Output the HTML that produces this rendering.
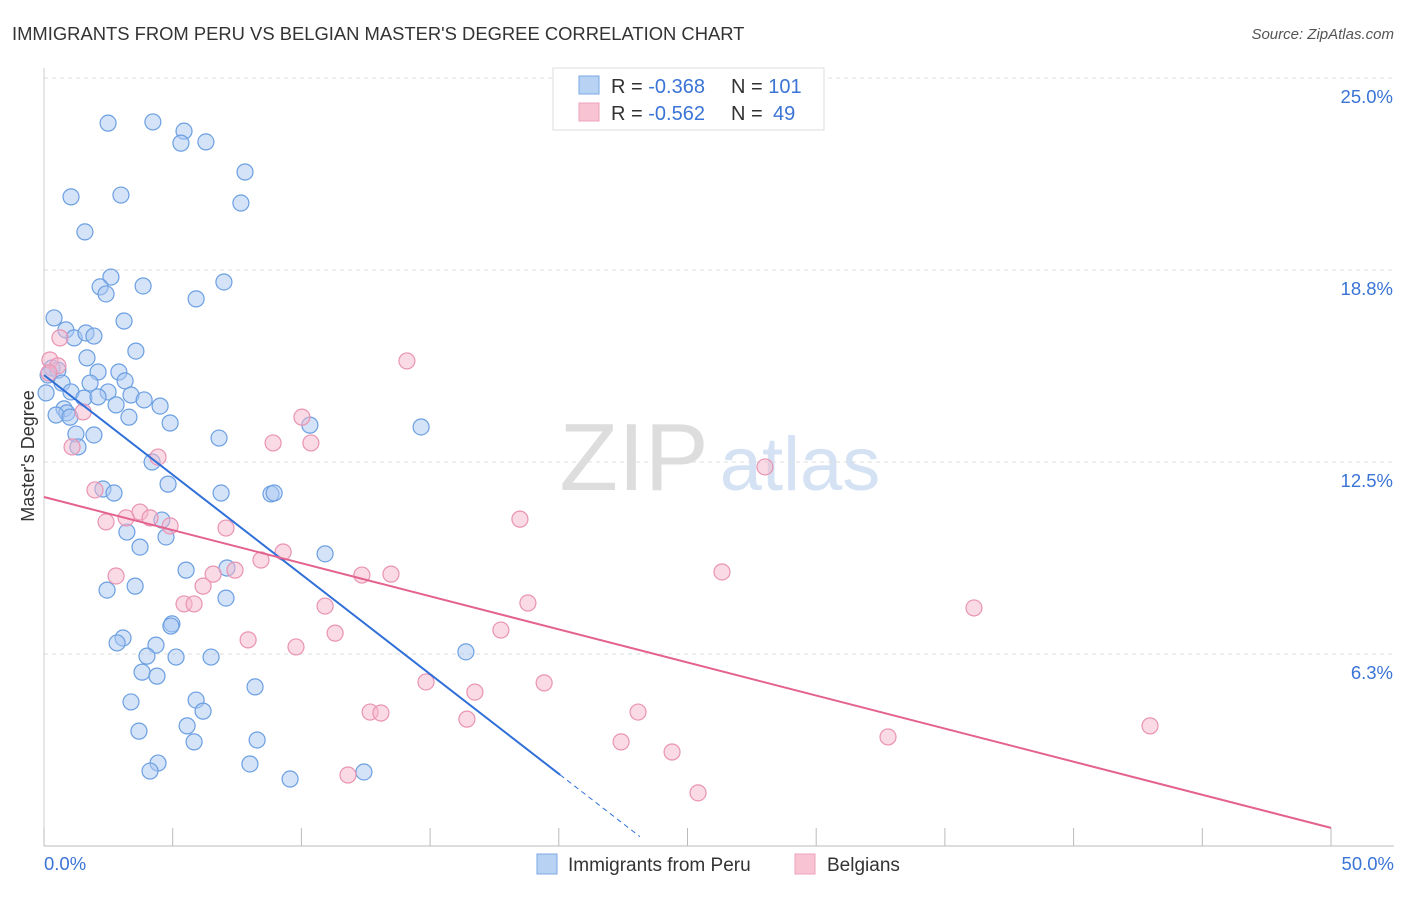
<!DOCTYPE html>
<html><head><meta charset="utf-8"><style>
body{margin:0;background:#fff;font-family:"Liberation Sans",sans-serif;}
svg text{font-family:"Liberation Sans",sans-serif;}
</style></head><body>
<svg id="chart" width="1406" height="892">
<text x="12" y="40" font-size="18.4" fill="#333">IMMIGRANTS FROM PERU VS BELGIAN MASTER'S DEGREE CORRELATION CHART</text>
<text x="1394" y="39" font-size="15" fill="#555" font-style="italic" text-anchor="end">Source: ZipAtlas.com</text>
<text x="634" y="490" font-size="96" fill="#ddd" font-family="Liberation Serif" text-anchor="middle">ZIP</text>
<text x="800" y="490" font-size="76" fill="#d4e2f4" text-anchor="middle">atlas</text>
<text transform="translate(34,456) rotate(-90)" font-size="18" fill="#333" text-anchor="middle">Master's Degree</text>
<g id="grid"></g><g id="marks"></g>
<g>
<rect x="553" y="68" width="271" height="62" fill="#fff" stroke="#ddd"/>
<rect x="579" y="76" width="20" height="18" fill="#b8d2f4" stroke="#7aa8e4"/>
<rect x="579" y="103" width="20" height="18" fill="#f8c4d4" stroke="#eda0bb"/>
<text x="611" y="93" font-size="20" fill="#333">R = <tspan fill="#3a74d6">-0.368</tspan></text>
<text x="731" y="93" font-size="20" fill="#333">N = <tspan fill="#3a74d6">101</tspan></text>
<text x="611" y="120" font-size="20" fill="#333">R = <tspan fill="#3a74d6">-0.562</tspan></text>
<text x="731" y="120" font-size="20" fill="#333">N = <tspan x="773" fill="#3a74d6">49</tspan></text>
</g>
<g>
<rect x="537" y="854" width="20" height="20" fill="#b8d2f4" stroke="#7aa8e4"/>
<text x="568" y="871" font-size="19" fill="#333">Immigrants from Peru</text>
<rect x="795" y="854" width="20" height="20" fill="#f8c4d4" stroke="#eda0bb"/>
<text x="827" y="871" font-size="19" fill="#333">Belgians</text>
</g>
</svg>
<script>
const yTicks=[6.25,12.5,18.75,25];
const yTickLabels=["6.3%","12.5%","18.8%","25.0%"];
const xTicks=[0,5,10,15,20,25,30,35,40,45,50];
const peruX=[2.49,4.23,5.44,5.32,6.29,7.81,1.05,2.99,7.65,1.59,2.60,2.18,2.41,3.85,6.99,5.91,0.39,3.11,0.85,1.17,1.63,1.94,3.57,1.67,0.31,0.54,0.16,2.10,2.91,0.70,1.79,3.15,0.08,1.05,2.49,3.38,1.55,2.10,2.80,3.89,4.51,0.78,0.89,0.47,1.01,3.30,4.90,1.24,1.94,10.33,14.65,6.80,1.32,4.20,4.82,2.29,2.72,6.88,8.82,8.94,4.58,3.22,3.73,4.74,10.92,5.52,7.11,3.54,2.45,7.07,4.97,3.07,2.84,4.35,4.93,4.00,5.13,6.49,16.39,3.81,4.39,8.20,5.91,3.38,6.18,5.56,3.69,5.83,8.28,4.43,4.12,8.00,9.56,12.43];
const peruY=[23.53,23.57,23.27,22.88,22.92,21.94,21.13,21.19,20.93,19.99,18.52,18.20,17.97,18.23,18.36,17.81,17.19,17.09,16.80,16.54,16.70,16.60,16.11,15.89,15.56,15.49,15.33,15.43,15.43,15.07,15.07,15.14,14.75,14.78,14.78,14.68,14.58,14.62,14.36,14.52,14.32,14.23,14.10,14.03,13.96,13.96,13.77,13.41,13.38,13.70,13.64,13.28,12.99,12.50,11.78,11.62,11.49,11.49,11.46,11.49,10.61,10.22,9.73,10.06,9.51,8.98,9.05,8.46,8.33,8.07,7.23,6.77,6.61,6.54,7.16,6.18,6.15,6.15,6.32,5.66,5.53,5.18,4.75,4.69,4.39,3.91,3.74,3.39,3.45,2.70,2.44,2.67,2.18,2.41];
const belX=[0.23,0.54,0.19,0.62,14.10,1.52,10.02,1.09,8.90,10.37,4.43,28.01,1.98,3.73,4.12,2.41,3.19,4.90,7.07,18.49,9.29,8.43,2.80,6.57,7.42,12.35,13.48,26.34,6.18,5.44,5.83,10.92,18.80,36.13,7.93,17.75,11.31,9.79,14.84,16.74,19.43,12.67,13.09,16.43,23.08,32.79,42.97,22.42,24.40,11.81,25.41];
const belY=[15.82,15.63,15.40,16.54,15.79,14.13,13.96,12.99,13.12,13.12,12.66,12.34,11.59,10.87,10.68,10.55,10.68,10.42,10.35,10.64,9.57,9.31,8.79,8.85,8.98,8.82,8.85,8.92,8.46,7.88,7.88,7.81,7.91,7.75,6.71,7.03,6.93,6.48,5.34,5.01,5.31,4.36,4.33,4.13,4.36,3.55,3.91,3.39,3.06,2.31,1.73];
const peruTrend=[15.33,-0.649];
const belTrend=[11.36,-0.2154];
const X=v=>44+v*25.74, Y=v=>846-v*30.72;
const NS="http://www.w3.org/2000/svg";
function mk(t,a,p){const e=document.createElementNS(NS,t);for(const k in a)e.setAttribute(k,a[k]);p.appendChild(e);return e;}
const grid=document.getElementById('grid'),marks=document.getElementById('marks');
yTicks.forEach((t,i)=>{
 const l=mk('line',{x1:44,x2:1394,y1:Y(t),y2:Y(t),stroke:'#ddd','stroke-dasharray':'4,4'},grid);
 
 
 const tx=mk('text',{x:1393,y:Y(t)+25,'font-size':18.5,fill:'#3a74d6','text-anchor':'end'},grid);
 tx.textContent=yTickLabels[i];
 
 
});
const ax=mk('line',{x1:44,x2:1394,y1:846,y2:846,stroke:'#bbb'},grid);


const ay=mk('line',{x1:44,x2:44,y1:68,y2:846,stroke:'#ccc'},grid);


xTicks.forEach(t=>{
 const l=mk('line',{x1:X(t),x2:X(t),y1:828,y2:846,stroke:'#bbb'},grid);
 
 
});
const xl0=mk('text',{x:44,y:870,'font-size':18.5,fill:'#3a74d6'},grid);xl0.textContent='0.0%';


const xl1=mk('text',{x:1394,y:870,'font-size':18.5,fill:'#3a74d6','text-anchor':'end'},grid);xl1.textContent='50.0%';


function pts(xs,ys,fill,stroke,name){xs.forEach((x,i)=>{
 const c=mk('circle',{cx:X(x),cy:Y(ys[i]),r:8,fill:fill,'fill-opacity':0.5,stroke:stroke,'stroke-width':1.2},marks);
 
 
});}
pts(peruX,peruY,'#a9c8f2','#6b9fe2','peru-point');
pts(belX,belY,'#f6b7cb','#e993b2','belgian-point');
const f=(tr,x)=>tr[0]+tr[1]*x;
const l1=mk('line',{x1:X(0),y1:Y(f(peruTrend,0)),x2:X(20.05),y2:Y(f(peruTrend,20.05)),stroke:'#2f6fd8','stroke-width':2},marks);


const l2=mk('line',{x1:X(20.05),y1:Y(f(peruTrend,20.05)),x2:X(23.15),y2:Y(f(peruTrend,23.15)),stroke:'#2f6fd8','stroke-width':1,'stroke-dasharray':'5,4'},marks);


const l3=mk('line',{x1:X(0),y1:Y(f(belTrend,0)),x2:X(50),y2:Y(f(belTrend,50)),stroke:'#e4628e','stroke-width':2},marks);


</script>
</body></html>
